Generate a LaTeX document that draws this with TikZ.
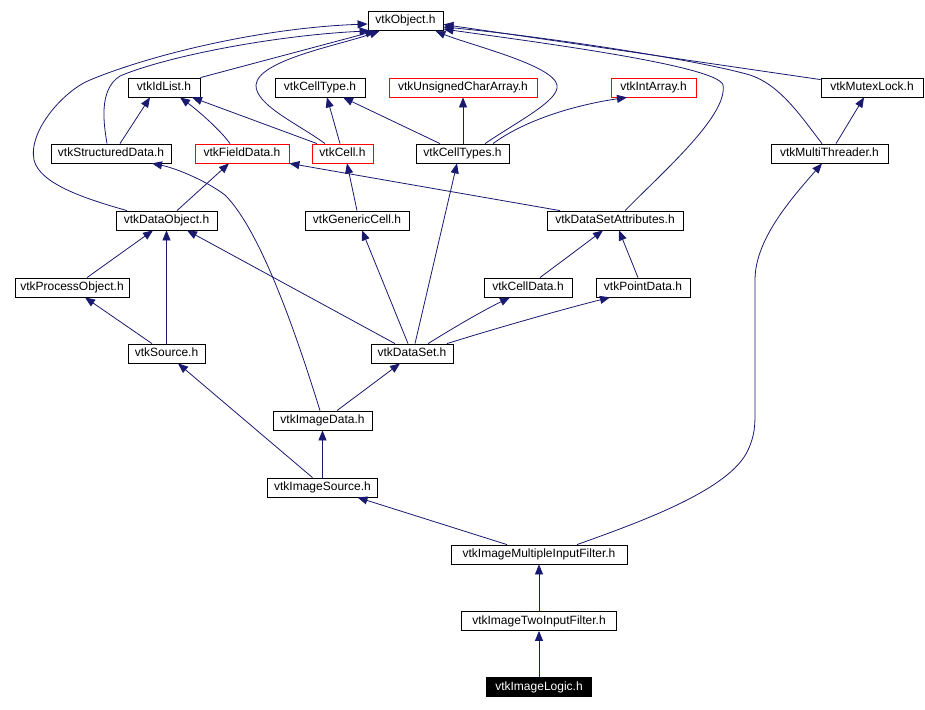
\documentclass[tikz,border=0pt]{standalone}
\usepackage{fontspec}
\setmainfont{Liberation Sans}
\usetikzlibrary{arrows.meta}
\definecolor{edgeblue}{RGB}{25,25,112}
\begin{document}
\begin{tikzpicture}[x=1pt,y=-1pt,
 box/.style={draw=black,line width=0.8pt,fill=white,minimum height=19pt,inner sep=0pt,
   text height=9pt,text depth=3pt,font=\fontsize{12}{14}\selectfont,anchor=center},
 redbox/.style={box,draw=red},
 dep/.style={draw=edgeblue,line width=0.8pt,-{Triangle[length=10pt,width=8pt]}}]
\path[use as bounding box,fill=white] (0,0) rectangle (925,709);

\node[box,minimum width=75pt] (obj) at (405.5,21) {vtkObject.h};
\node[box,minimum width=72pt] (idl) at (164,87.5) {vtkIdList.h};
\node[box,minimum width=90pt] (cty) at (320,87.5) {vtkCellType.h};
\node[redbox,minimum width=148pt] (uca) at (463,87.5) {vtkUnsignedCharArray.h};
\node[redbox,minimum width=85pt] (ia) at (653.5,87.5) {vtkIntArray.h};
\node[box,minimum width=102pt] (mtx) at (872,87.5) {vtkMutexLock.h};
\node[box,minimum width=120pt] (sd) at (111,153.5) {vtkStructuredData.h};
\node[redbox,minimum width=94pt] (fd) at (242,153.5) {vtkFieldData.h};
\node[redbox,minimum width=61pt] (cell) at (342.5,153.5) {vtkCell.h};
\node[box,minimum width=93pt] (ctys) at (462.5,153.5) {vtkCellTypes.h};
\node[box,minimum width=117pt] (mt) at (829.5,153.5) {vtkMultiThreader.h};
\node[box,minimum width=101pt] (do) at (166.5,220.5) {vtkDataObject.h};
\node[box,minimum width=104pt] (gc) at (357,220.5) {vtkGenericCell.h};
\node[box,minimum width=136pt] (dsa) at (615,220.5) {vtkDataSetAttributes.h};
\node[box,minimum width=114pt] (po) at (72,287.5) {vtkProcessObject.h};
\node[box,minimum width=88pt] (cd) at (528,287.5) {vtkCellData.h};
\node[box,minimum width=94pt] (pd) at (643,287.5) {vtkPointData.h};
\node[box,minimum width=77pt] (src) at (166.5,353.5) {vtkSource.h};
\node[box,minimum width=82pt] (ds) at (412,353.5) {vtkDataSet.h};
\node[box,minimum width=99pt] (id) at (322.5,420.5) {vtkImageData.h};
\node[box,minimum width=110pt] (is) at (322.5,487.5) {vtkImageSource.h};
\node[box,minimum width=176pt] (imif) at (539,554.5) {vtkImageMultipleInputFilter.h};
\node[box,minimum width=155pt] (itif) at (539,621) {vtkImageTwoInputFilter.h};
\node[box,fill=black,text=white,minimum width=105pt] (il) at (539,687) {vtkImageLogic.h};

% edges into vtkObject
\draw[dep] ([xshift=-39.5pt]do.north) .. controls (90,200) and (40,185) .. (34,160) .. controls (28,130) and (65,90) .. (90,80) .. controls (150,55) and (260,28) .. ([yshift=-3pt]obj.west);
\draw[dep] ([xshift=-4pt]sd.north) .. controls (104,125) and (98,90) .. (120,76) .. controls (170,55) and (280,35) .. ([xshift=2pt]obj.south west);
\draw[dep] (idl.north east) -- ([xshift=8pt]obj.south west);
\draw[dep] ([xshift=-17.5pt]cell.north) .. controls (300,125) and (255,105) .. (256,85) .. controls (258,60) and (340,45) .. ([xshift=12pt]obj.south west);
\draw[dep] ([xshift=22.5pt]ctys.north) .. controls (520,120) and (560,100) .. (557,85) .. controls (553,65) and (470,45) .. ([xshift=-8pt]obj.south east);
\draw[dep] ([xshift=10pt]dsa.north) .. controls (665,170) and (728,115) .. (723,85) .. controls (718,65) and (520,40) .. ([yshift=-8pt]obj.east);
\draw[dep] ([xshift=-7.5pt]mt.north) .. controls (800,115) and (780,85) .. (750,75) .. controls (690,58) and (530,35) .. ([yshift=-6pt]obj.east);
\draw[dep] ([yshift=-2pt]mtx.north west) -- ([yshift=-3.5pt]obj.east);

% upper rows
\draw[dep] ([xshift=9pt]sd.north) -- ([xshift=-14pt]idl.south);
\draw[dep] ([xshift=-12pt]fd.north) .. controls (222,132) and (200,112) .. ([xshift=16pt]idl.south);
\draw[dep] ([xshift=-25.5pt]cell.north) -- ([xshift=28pt]idl.south);
\draw[dep] ([xshift=-2.5pt]cell.north) -- ([xshift=7pt]cty.south);
\draw[dep] ([xshift=-22.5pt]ctys.north) -- ([xshift=23pt]cty.south);
\draw[dep] ([xshift=0.5pt]ctys.north) -- (uca.south);
\draw[dep] ([xshift=30.5pt]ctys.north) .. controls (525,120) and (575,105) .. ([xshift=-26.5pt]ia.south);
\draw[dep] ([xshift=6.5pt]mt.north) -- ([xshift=-8pt]mtx.south);
\draw[dep] ([xshift=10.5pt]do.north) -- ([xshift=-13pt]fd.south);
\draw[dep] ([xshift=-55pt]dsa.north) -- (fd.south east);
\draw[dep] (gc.north) -- ([xshift=4.5pt]cell.south);

% middle rows
\draw[dep] ([xshift=15pt]po.north) -- ([xshift=-13.5pt]do.south);
\draw[dep] (src.north) -- (do.south);
\draw[dep] ([xshift=-17pt]ds.north) -- ([xshift=20.5pt]do.south);
\draw[dep] ([xshift=-14.5pt]src.north) -- ([xshift=13pt]po.south);
\draw[dep] ([xshift=-4pt]ds.north) -- ([xshift=5pt]gc.south);
\draw[dep] ([xshift=3pt]ds.north) -- ([xshift=-5.5pt]ctys.south);
\draw[dep] ([xshift=16pt]ds.north) .. controls (450,330) and (480,312) .. ([xshift=-18pt]cd.south);
\draw[dep] ([xshift=35pt]ds.north) .. controls (490,330) and (560,310) .. ([xshift=-33pt]pd.south);
\draw[dep] ([xshift=12pt]cd.north) -- ([xshift=-12pt]dsa.south);
\draw[dep] ([xshift=-5pt]pd.north) -- ([xshift=4pt]dsa.south);

% lower rows
\draw[dep] ([xshift=-2.5pt]id.north) .. controls (295,330) and (260,230) .. (225,195) .. controls (205,180) and (175,168) .. ([xshift=41pt]sd.south);
\draw[dep] ([xshift=14.5pt]id.north) -- ([xshift=-12pt]ds.south);
\draw[dep] (is.north) -- (id.south);
\draw[dep] ([xshift=-10pt]is.north) -- ([xshift=11.5pt]src.south);
\draw[dep] ([xshift=-32pt]imif.north) -- ([xshift=35pt]is.south);
\draw[dep] ([xshift=38pt]imif.north) .. controls (640,522) and (730,490) .. (748,450) .. controls (755,435) and (755,425) .. (755,410) -- (755,280) .. controls (755,240) and (790,200) .. ([xshift=-7.5pt]mt.south);
\draw[dep] (itif.north) -- (imif.south);
\draw[dep] (il.north) -- (itif.south);
\end{tikzpicture}
\end{document}
